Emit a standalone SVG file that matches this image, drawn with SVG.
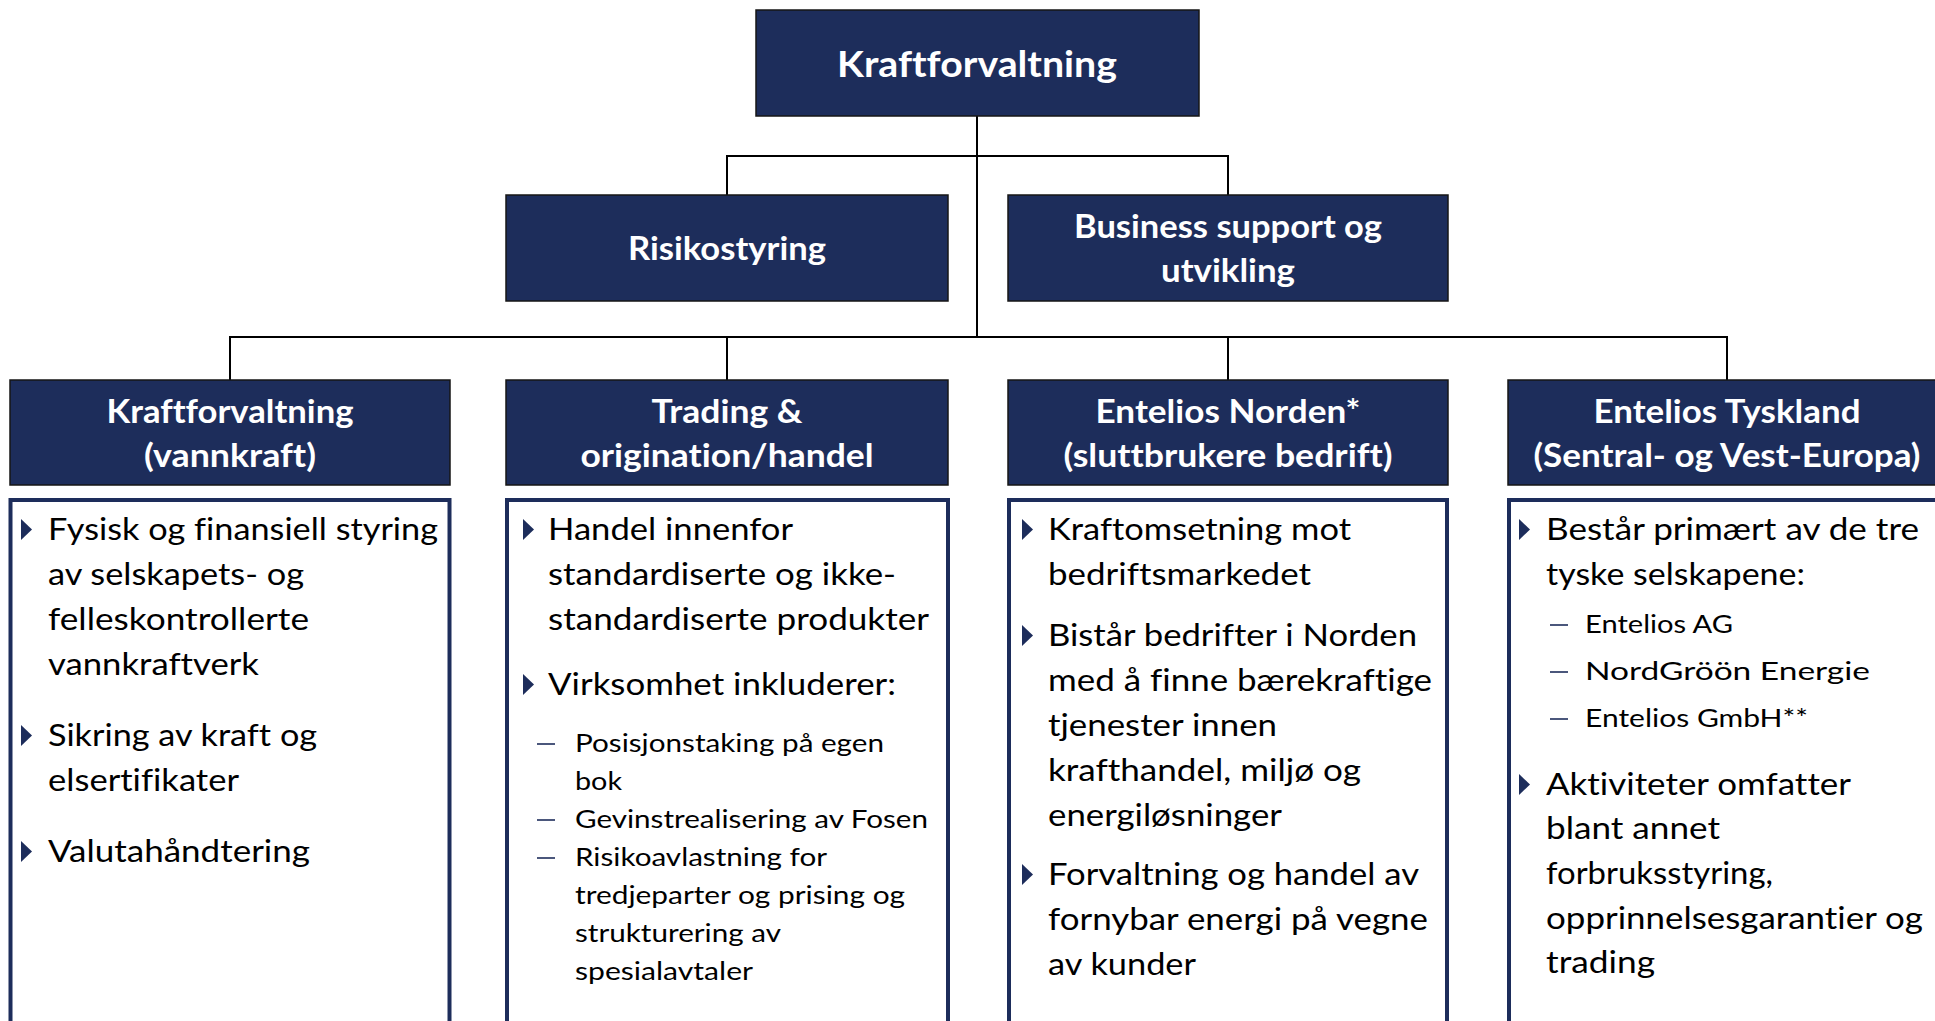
<svg xmlns="http://www.w3.org/2000/svg" width="1935" height="1021" viewBox="0 0 1935 1021">
  <style>
    .hdr { fill: #1d2d5b; stroke: #161616; stroke-width: 1.5; }
    .card { fill: #ffffff; stroke: #1d2d5b; stroke-width: 4; }
    .conn { fill: none; stroke: #000000; stroke-width: 2; }
    text { font-variant-ligatures: none; }
    .th { font-family: Lato, "Open Sans", "Liberation Sans", sans-serif; font-weight: 700; fill: #ffffff; text-anchor: middle; }
    .tb { font-family: Lato, "Open Sans", "Liberation Sans", sans-serif; font-size: 30px; fill: #000000; }
    .ts { font-family: Lato, "Open Sans", "Liberation Sans", sans-serif; font-size: 25px; fill: #000000; }
    .bul { fill: #1d2d5b; }
    .dash { stroke: #1d2d5b; stroke-width: 1.6; }
  </style>
  <defs>
    <polygon id="tri" points="0,-21 11,-10.5 0,0"/>
  </defs>
  <rect width="1935" height="1021" fill="#ffffff"/>

  <!-- connectors -->
  <g id="connectors">
    <line class="conn" x1="977" y1="116" x2="977" y2="337"/>
    <polyline class="conn" points="727,195 727,156 1228,156 1228,195"/>
    <line class="conn" x1="229" y1="337" x2="1728" y2="337"/>
    <line class="conn" x1="230" y1="337" x2="230" y2="380"/>
    <line class="conn" x1="727" y1="337" x2="727" y2="380"/>
    <line class="conn" x1="1228" y1="337" x2="1228" y2="380"/>
    <line class="conn" x1="1727" y1="337" x2="1727" y2="380"/>
  </g>

  <!-- top -->
  <g id="kraftforvaltning-top">
    <rect class="hdr" x="756" y="10" width="443" height="106"/>
    <text class="th" x="977" y="77" font-size="36" textLength="280" lengthAdjust="spacingAndGlyphs">Kraftforvaltning</text>
  </g>

  <!-- staff units -->
  <g id="risikostyring">
    <rect class="hdr" x="506" y="195" width="442" height="106"/>
    <text class="th" x="727" y="260" font-size="32" textLength="198" lengthAdjust="spacingAndGlyphs">Risikostyring</text>
  </g>
  <g id="business-support">
    <rect class="hdr" x="1008" y="195" width="440" height="106"/>
    <text class="th" x="1228" y="238" font-size="32" textLength="308" lengthAdjust="spacingAndGlyphs">Business support og</text>
    <text class="th" x="1228" y="282" font-size="32" textLength="134" lengthAdjust="spacingAndGlyphs">utvikling</text>
  </g>

  <!-- column 1 -->
  <g id="kraftforvaltning-vannkraft">
    <rect class="hdr" x="10" y="380" width="440" height="105"/>
    <text class="th" x="230" y="423" font-size="32" textLength="247" lengthAdjust="spacingAndGlyphs">Kraftforvaltning</text>
    <text class="th" x="230" y="467" font-size="32" textLength="172" lengthAdjust="spacingAndGlyphs">(vannkraft)</text>
    <rect class="card" x="10.5" y="500" width="439" height="600"/>
    <use href="#tri" class="bul" x="21" y="540"/>
    <text class="tb" x="48" y="540" textLength="390" lengthAdjust="spacingAndGlyphs">Fysisk og finansiell styring</text>
    <text class="tb" x="48" y="585" textLength="256" lengthAdjust="spacingAndGlyphs">av selskapets- og</text>
    <text class="tb" x="48" y="630" textLength="261" lengthAdjust="spacingAndGlyphs">felleskontrollerte</text>
    <text class="tb" x="48" y="675" textLength="211" lengthAdjust="spacingAndGlyphs">vannkraftverk</text>
    <use href="#tri" class="bul" x="21" y="746"/>
    <text class="tb" x="48" y="746" textLength="269" lengthAdjust="spacingAndGlyphs">Sikring av kraft og</text>
    <text class="tb" x="48" y="791" textLength="191" lengthAdjust="spacingAndGlyphs">elsertifikater</text>
    <use href="#tri" class="bul" x="21" y="862"/>
    <text class="tb" x="48" y="862" textLength="262" lengthAdjust="spacingAndGlyphs">Valutahåndtering</text>
  </g>

  <!-- column 2 -->
  <g id="trading">
    <rect class="hdr" x="506" y="380" width="442" height="105"/>
    <text class="th" x="727" y="423" font-size="32" textLength="151" lengthAdjust="spacingAndGlyphs">Trading &amp;</text>
    <text class="th" x="727" y="467" font-size="32" textLength="293" lengthAdjust="spacingAndGlyphs">origination/handel</text>
    <rect class="card" x="507" y="500" width="441" height="600"/>
    <use href="#tri" class="bul" x="523" y="540"/>
    <text class="tb" x="548" y="540" textLength="245" lengthAdjust="spacingAndGlyphs">Handel innenfor</text>
    <text class="tb" x="548" y="585" textLength="348" lengthAdjust="spacingAndGlyphs">standardiserte og ikke-</text>
    <text class="tb" x="548" y="630" textLength="381" lengthAdjust="spacingAndGlyphs">standardiserte produkter</text>
    <use href="#tri" class="bul" x="523" y="695"/>
    <text class="tb" x="548" y="695" textLength="348" lengthAdjust="spacingAndGlyphs">Virksomhet inkluderer:</text>
    <line class="dash" x1="537" y1="744" x2="555" y2="744"/>
    <text class="ts" x="575" y="752" textLength="309" lengthAdjust="spacingAndGlyphs">Posisjonstaking på egen</text>
    <text class="ts" x="575" y="790" textLength="47" lengthAdjust="spacingAndGlyphs">bok</text>
    <line class="dash" x1="537" y1="820" x2="555" y2="820"/>
    <text class="ts" x="575" y="828" textLength="353" lengthAdjust="spacingAndGlyphs">Gevinstrealisering av Fosen</text>
    <line class="dash" x1="537" y1="858" x2="555" y2="858"/>
    <text class="ts" x="575" y="866" textLength="252" lengthAdjust="spacingAndGlyphs">Risikoavlastning for</text>
    <text class="ts" x="575" y="904" textLength="330" lengthAdjust="spacingAndGlyphs">tredjeparter og prising og</text>
    <text class="ts" x="575" y="942" textLength="206" lengthAdjust="spacingAndGlyphs">strukturering av</text>
    <text class="ts" x="575" y="980" textLength="178" lengthAdjust="spacingAndGlyphs">spesialavtaler</text>
  </g>

  <!-- column 3 -->
  <g id="entelios-norden">
    <rect class="hdr" x="1008" y="380" width="440" height="105"/>
    <text class="th" x="1228" y="423" font-size="32" textLength="265" lengthAdjust="spacingAndGlyphs">Entelios Norden*</text>
    <text class="th" x="1228" y="467" font-size="32" textLength="329" lengthAdjust="spacingAndGlyphs">(sluttbrukere bedrift)</text>
    <rect class="card" x="1009" y="500" width="438" height="600"/>
    <use href="#tri" class="bul" x="1022" y="540"/>
    <text class="tb" x="1048" y="540" textLength="303" lengthAdjust="spacingAndGlyphs">Kraftomsetning mot</text>
    <text class="tb" x="1048" y="585" textLength="263" lengthAdjust="spacingAndGlyphs">bedriftsmarkedet</text>
    <use href="#tri" class="bul" x="1022" y="646"/>
    <text class="tb" x="1048" y="646" textLength="369" lengthAdjust="spacingAndGlyphs">Bistår bedrifter i Norden</text>
    <text class="tb" x="1048" y="691" textLength="384" lengthAdjust="spacingAndGlyphs">med å finne bærekraftige</text>
    <text class="tb" x="1048" y="736" textLength="229" lengthAdjust="spacingAndGlyphs">tjenester innen</text>
    <text class="tb" x="1048" y="781" textLength="313" lengthAdjust="spacingAndGlyphs">krafthandel, miljø og</text>
    <text class="tb" x="1048" y="826" textLength="234" lengthAdjust="spacingAndGlyphs">energiløsninger</text>
    <use href="#tri" class="bul" x="1022" y="885"/>
    <text class="tb" x="1048" y="885" textLength="371" lengthAdjust="spacingAndGlyphs">Forvaltning og handel av</text>
    <text class="tb" x="1048" y="930" textLength="380" lengthAdjust="spacingAndGlyphs">fornybar energi på vegne</text>
    <text class="tb" x="1048" y="975" textLength="148" lengthAdjust="spacingAndGlyphs">av kunder</text>
  </g>

  <!-- column 4 -->
  <g id="entelios-tyskland">
    <rect class="hdr" x="1508" y="380" width="500" height="105"/>
    <text class="th" x="1727" y="423" font-size="32" textLength="267" lengthAdjust="spacingAndGlyphs">Entelios Tyskland</text>
    <text class="th" x="1727" y="467" font-size="32" textLength="387" lengthAdjust="spacingAndGlyphs">(Sentral- og Vest-Europa)</text>
    <rect class="card" x="1509" y="500" width="500" height="600"/>
    <use href="#tri" class="bul" x="1519" y="540"/>
    <text class="tb" x="1546" y="540" textLength="373" lengthAdjust="spacingAndGlyphs">Består primært av de tre</text>
    <text class="tb" x="1546" y="585" textLength="259" lengthAdjust="spacingAndGlyphs">tyske selskapene:</text>
    <line class="dash" x1="1550" y1="625" x2="1568" y2="625"/>
    <text class="ts" x="1585" y="633" textLength="148" lengthAdjust="spacingAndGlyphs">Entelios AG</text>
    <line class="dash" x1="1550" y1="672" x2="1568" y2="672"/>
    <text class="ts" x="1585" y="680" textLength="285" lengthAdjust="spacingAndGlyphs">NordGröön Energie</text>
    <line class="dash" x1="1550" y1="719" x2="1568" y2="719"/>
    <text class="ts" x="1585" y="727" textLength="223" lengthAdjust="spacingAndGlyphs">Entelios GmbH**</text>
    <use href="#tri" class="bul" x="1519" y="795"/>
    <text class="tb" x="1546" y="795" textLength="305" lengthAdjust="spacingAndGlyphs">Aktiviteter omfatter</text>
    <text class="tb" x="1546" y="839" textLength="174" lengthAdjust="spacingAndGlyphs">blant annet</text>
    <text class="tb" x="1546" y="884" textLength="227" lengthAdjust="spacingAndGlyphs">forbruksstyring,</text>
    <text class="tb" x="1546" y="929" textLength="377" lengthAdjust="spacingAndGlyphs">opprinnelsesgarantier og</text>
    <text class="tb" x="1546" y="973" textLength="109" lengthAdjust="spacingAndGlyphs">trading</text>
  </g>
</svg>
